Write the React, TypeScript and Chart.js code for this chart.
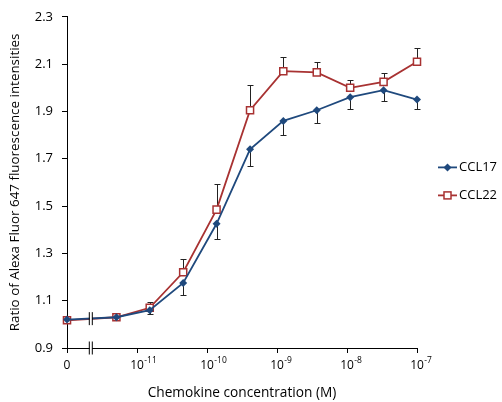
import React, { useEffect, useRef } from "react";
import { Chart, registerables } from "chart.js";

Chart.register(...registerables);

// Chemokine concentrations (M); 0 = no chemokine (drawn at the axis origin)
const concentrations = [0, 5.08e-12, 1.52e-11, 4.57e-11, 1.37e-10, 4.12e-10, 1.23e-9, 3.7e-9, 1.11e-8, 3.33e-8, 1e-7];
const ccl17 = [1.02, 1.03, 1.06, 1.175, 1.425, 1.74, 1.86, 1.905, 1.96, 1.99, 1.95];
const ccl17Err = [0.008, 0.01, 0.015, 0.05, 0.065, 0.07, 0.06, 0.055, 0.05, 0.045, 0.04];
const ccl22 = [1.017, 1.03, 1.07, 1.22, 1.485, 1.905, 2.07, 2.065, 2.0, 2.025, 2.11];
const ccl22Err = [0.008, 0.01, 0.025, 0.056, 0.11, 0.107, 0.06, 0.046, 0.034, 0.036, 0.06];
const xTickValues = [-12, -11, -10, -9, -8, -7];
const xTickBase = ["0", "10", "10", "10", "10", "10"];
const xTickExp = ["", "-11", "-10", "-9", "-8", "-7"];
const seriesNames = ["CCL17", "CCL22"];

const BLUE = "#1F497D";
const RED = "#A83232";
const FONT = "'Open Sans', 'DejaVu Sans', sans-serif";

const xVals = concentrations.map((c) => (c === 0 ? -12 : Math.log10(c)));
const BREAK_X = -11.66;

const errorBars = {
  id: "errorBars",
  beforeDatasetsDraw(chart: any) {
    const { ctx, scales } = chart;
    const x = scales.x;
    const y = scales.y;
    ctx.save();
    ctx.strokeStyle = "#222";
    ctx.lineWidth = 1;
    const draw = (vals: number[], errs: number[], dir: number) => {
      vals.forEach((v, i) => {
        const px = Math.round(x.getPixelForValue(xVals[i])) + 0.5;
        const p0 = y.getPixelForValue(v);
        const p1 = Math.round(y.getPixelForValue(v + dir * errs[i])) + 0.5;
        ctx.beginPath();
        ctx.moveTo(px, p0);
        ctx.lineTo(px, p1);
        ctx.moveTo(px - 3, p1);
        ctx.lineTo(px + 3, p1);
        ctx.stroke();
      });
    };
    draw(ccl17, ccl17Err, -1);
    draw(ccl22, ccl22Err, 1);
    ctx.restore();
  },
};

const breakMarks = {
  id: "breakMarks",
  afterDatasetsDraw(chart: any) {
    const { ctx, scales } = chart;
    const x = scales.x;
    const y = scales.y;
    const bx = x.getPixelForValue(BREAK_X);
    const x0 = x.getPixelForValue(xVals[0]);
    const x1 = x.getPixelForValue(xVals[1]);
    const t = (bx - x0) / (x1 - x0);
    const ly0 = y.getPixelForValue((ccl17[0] + ccl22[0]) / 2);
    const ly1 = y.getPixelForValue((ccl17[1] + ccl22[1]) / 2);
    const lineY = ly0 + (ly1 - ly0) * t;
    const axisY = y.bottom;
    ctx.save();
    const mark = (cy: number, h: number) => {
      ctx.fillStyle = "#fff";
      ctx.fillRect(bx - 1.2, cy - 4, 2.4, 8);
      ctx.strokeStyle = "#000";
      ctx.lineWidth = 1;
      ctx.beginPath();
      ctx.moveTo(bx - 1.5, cy - h);
      ctx.lineTo(bx - 1.5, cy + h);
      ctx.moveTo(bx + 1.5, cy - h);
      ctx.lineTo(bx + 1.5, cy + h);
      ctx.stroke();
    };
    mark(lineY, 6.5);
    mark(axisY, 6.5);
    ctx.restore();
  },
};

const xLabels = {
  id: "xLabels",
  afterDraw(chart: any) {
    const { ctx, scales } = chart;
    const x = scales.x;
    const cy = x.top + 17.5;
    ctx.save();
    ctx.fillStyle = "#000";
    ctx.textBaseline = "middle";
    xTickValues.forEach((v, i) => {
      const px = x.getPixelForValue(v);
      ctx.font = `12px ${FONT}`;
      ctx.textAlign = "center";
      ctx.fillText(xTickBase[i], px, cy);
      if (xTickExp[i]) {
        const w = ctx.measureText(xTickBase[i]).width;
        ctx.font = `8.5px ${FONT}`;
        ctx.textAlign = "left";
        ctx.fillText(xTickExp[i], px + w / 2 + 0.5, cy - 4.5);
      }
    });
    ctx.restore();
  },
};

const customLegend = {
  id: "customLegend",
  afterDraw(chart: any) {
    const { ctx, chartArea } = chart;
    const cy = (chartArea.top + chartArea.bottom) / 2;
    const lx = chartArea.right + 21;
    const items = [
      { y: cy - 15, color: BLUE, style: "diamond", name: seriesNames[0] },
      { y: cy + 13, color: RED, style: "square", name: seriesNames[1] },
    ];
    ctx.save();
    items.forEach((it) => {
      ctx.strokeStyle = it.color;
      ctx.lineWidth = 1.8;
      ctx.beginPath();
      ctx.moveTo(lx, it.y);
      ctx.lineTo(lx + 19, it.y);
      ctx.stroke();
      const mx = lx + 9.5;
      if (it.style === "diamond") {
        ctx.fillStyle = it.color;
        ctx.beginPath();
        ctx.moveTo(mx - 4, it.y);
        ctx.lineTo(mx, it.y - 4);
        ctx.lineTo(mx + 4, it.y);
        ctx.lineTo(mx, it.y + 4);
        ctx.closePath();
        ctx.fill();
      } else {
        ctx.fillStyle = "#fff";
        ctx.fillRect(mx - 3.5, it.y - 3.5, 7, 7);
        ctx.lineWidth = 1.5;
        ctx.strokeRect(mx - 3.5, it.y - 3.5, 7, 7);
      }
      ctx.fillStyle = "#000";
      ctx.font = `13px ${FONT}`;
      ctx.textBaseline = "middle";
      ctx.textAlign = "left";
      ctx.fillText(it.name, lx + 21, it.y);
    });
    ctx.restore();
  },
};

export default function App() {
  const ref = useRef<HTMLCanvasElement | null>(null);
  useEffect(() => {
    if (!ref.current) return;
    const chart = new Chart(ref.current, {
      type: "line",
      data: {
        datasets: [
          {
            label: seriesNames[0],
            data: xVals.map((xv, i) => ({ x: xv, y: ccl17[i] })),
            borderColor: BLUE,
            backgroundColor: BLUE,
            borderWidth: 1.8,
            pointStyle: "rectRot",
            pointRadius: 4,
            pointBorderWidth: 0,
            pointBackgroundColor: BLUE,
            tension: 0,
            clip: false,
          },
          {
            label: seriesNames[1],
            data: xVals.map((xv, i) => ({ x: xv, y: ccl22[i] })),
            borderColor: RED,
            backgroundColor: "#fff",
            borderWidth: 1.8,
            pointStyle: "rect",
            pointRadius: 5,
            pointBorderWidth: 1.5,
            pointBorderColor: RED,
            pointBackgroundColor: "#fff",
            tension: 0,
            clip: false,
          },
        ],
      },
      options: {
        animation: false,
        responsive: false,
        layout: { padding: { top: 10, right: 85, left: 0, bottom: 0 } },
        plugins: { legend: { display: false }, tooltip: { enabled: false } },
        scales: {
          x: {
            type: "linear",
            min: -12,
            max: -7,
            afterFit: (s: any) => {
              s.height = 54;
            },
            afterBuildTicks: (s: any) => {
              s.ticks = xTickValues.map((v) => ({ value: v }));
            },
            ticks: {
              display: false,
            },
            grid: {
              display: true,
              drawOnChartArea: false,
              drawTicks: true,
              tickLength: 5,
              color: "#000",
            },
            border: { display: true, color: "#000", width: 1 },
            title: {
              display: true,
              text: "Chemokine concentration (M)",
              color: "#000",
              font: { family: FONT, size: 13.7 },
              padding: { top: 0, bottom: 1 },
            },
          },
          y: {
            type: "linear",
            min: 0.9,
            max: 2.3,
            afterFit: (s: any) => {
              s.width = 67;
            },
            ticks: {
              stepSize: 0.2,
              callback: (v: any) => Number(v).toFixed(1),
              color: "#000",
              font: { family: FONT, size: 13 },
              padding: 9,
            },
            grid: {
              display: true,
              drawOnChartArea: false,
              drawTicks: true,
              tickLength: 5,
              color: "#000",
            },
            border: { display: true, color: "#000", width: 1 },
            title: {
              display: true,
              text: "Ratio of Alexa Fluor 647 fluorescence intensities",
              color: "#000",
              font: { family: FONT, size: 13.4 },
              padding: { top: 7, bottom: 0 },
            },
          },
        },
      },
      plugins: [errorBars, breakMarks, xLabels, customLegend],
    });
    return () => chart.destroy();
  }, []);
  return (
    <div style={{ position: "fixed", left: 0, top: 0, width: 502, height: 402, background: "#fff" }}>
      <canvas ref={ref} width={502} height={402} style={{ display: "block" }} />
    </div>
  );
}
